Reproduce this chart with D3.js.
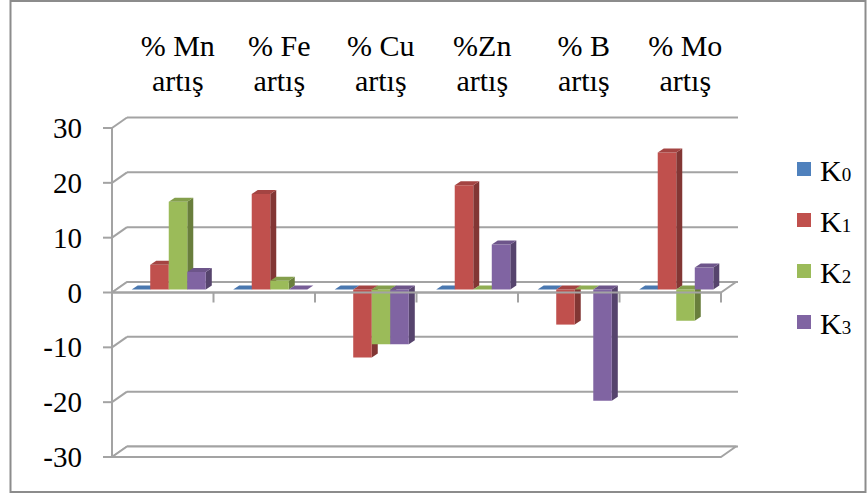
<!DOCTYPE html>
<html>
<head>
<meta charset="utf-8">
<script src="https://cdn.jsdelivr.net/npm/d3@7/dist/d3.min.js"></script>
<style>
  html, body { margin: 0; padding: 0; background: #fff; }
  svg { display: block; }
  text { font-family: "Liberation Serif", "Times New Roman", serif; fill: #000; }
</style>
</head>
<body>
<svg id="chart" width="868" height="495"></svg>
<script>
// ---- data ----
const categories = ["% Mn\nartış", "% Fe\nartış", "% Cu\nartış", "%Zn\nartış", "% B\nartış", "% Mo\nartış"];
const seriesNames = ["K0", "K1", "K2", "K3"];
const K0 = [0, 0, 0, 0, 0, 0];
const K1 = [4.5, 17.4, -12.4, 19, -6.4, 25];
const K2 = [16, 1.6, -10, 0, 0, -5.7];
const K3 = [3.2, 0, -10, 8.2, -20.3, 4];
const yTicks = [30, 20, 10, 0, -10, -20, -30];
const colors = ["#4F81BD", "#C0504D", "#9BBB59", "#8064A2"];

const seriesValues = [K0, K1, K2, K3];

// ---- layout ----
const svg = d3.select("#chart");
const W = 868, H = 495;
const back = { dx: 15, dy: -10.5 };   // depth offset of back wall
const barOff = { dx: 6, dy: -3 };     // front face of bars
const barDepth = { dx: 6, dy: -4 };   // bar depth
const gridColor = "#a3a3a3";

const y = d3.scaleLinear().domain([-30, 30]).range([457, 128]);
const x0 = d3.scaleBand().domain(d3.range(categories.length)).range([112, 721]).padding(0);
const x1 = d3.scaleBand().domain(d3.range(seriesNames.length)).range([0, x0.bandwidth()]).paddingInner(0).paddingOuter(0.74);

// border
svg.append("rect").attr("x", 10.5).attr("y", 1).attr("width", 855).attr("height", 491)
  .attr("fill", "none").attr("stroke", "#8c8c8c").attr("stroke-width", 2);

const g = svg.append("g");
const xL = x0.range()[0], xR = x0.range()[1];

// back wall gridlines + left side diagonals
yTicks.forEach(t => {
  g.append("line").attr("x1", xL + back.dx).attr("x2", xR + back.dx + 2)
    .attr("y1", y(t) + back.dy).attr("y2", y(t) + back.dy)
    .attr("stroke", gridColor).attr("stroke-width", 2);
  g.append("line").attr("x1", xL).attr("x2", xL + back.dx)
    .attr("y1", y(t)).attr("y2", y(t) + back.dy)
    .attr("stroke", gridColor).attr("stroke-width", 2);
});

// floor at 0 (fill) and at -30
function floorPoly(v) {
  return [[xL, y(v)], [xR, y(v)], [xR + back.dx, y(v) + back.dy], [xL + back.dx, y(v) + back.dy]];
}
[0, -30].forEach(v => {
  g.append("polygon").attr("points", floorPoly(v).map(p => p.join(",")).join(" "))
    .attr("fill", "#fff").attr("stroke", gridColor).attr("stroke-width", 2).attr("stroke-linejoin", "round");
});

// bars
const barsG = g.append("g");
function poly(pts, fill) {
  barsG.append("polygon").attr("points", pts.map(p => p.join(",")).join(" ")).attr("fill", fill);
}
categories.forEach((c, ci) => {
  seriesNames.forEach((s, si) => {
    const v = seriesValues[si][ci];
    const base = d3.color(colors[si]);
    const xa = x0(ci) + x1(si) + barOff.dx;
    const xb = xa + x1.bandwidth();
    const y0 = y(0) + barOff.dy;
    const yv = y(v) + barOff.dy;
    const top = Math.min(y0, yv), bot = Math.max(y0, yv);
    // side face
    if (v !== 0) {
      poly([[xb, top], [xb + barDepth.dx, top + barDepth.dy], [xb + barDepth.dx, bot + barDepth.dy], [xb, bot]],
        base.darker(1.1).formatHex());
    }
    // front face
    if (v !== 0) {
      poly([[xa, top], [xb, top], [xb, bot], [xa, bot]], base.formatHex());
    }
    // top face
    poly([[xa, top], [xb, top], [xb + barDepth.dx, top + barDepth.dy], [xa + barDepth.dx, top + barDepth.dy]],
      v === 0 ? base.darker(0.2).formatHex() : base.darker(0.45).formatHex());
  });
});

// front axis lines (drawn on top)
g.append("line").attr("x1", xL).attr("x2", xL).attr("y1", y(30)).attr("y2", y(-30))
  .attr("stroke", gridColor).attr("stroke-width", 2);
yTicks.forEach(t => {
  g.append("line").attr("x1", xL - 9).attr("x2", xL).attr("y1", y(t)).attr("y2", y(t))
    .attr("stroke", gridColor).attr("stroke-width", 2);
});
g.append("line").attr("x1", xL).attr("x2", xR).attr("y1", y(0)).attr("y2", y(0))
  .attr("stroke", gridColor).attr("stroke-width", 2);
categories.forEach((c, ci) => {
  const xt = x0(ci) + x0.bandwidth();
  g.append("line").attr("x1", xt).attr("x2", xt).attr("y1", y(0)).attr("y2", y(0) + 10)
    .attr("stroke", gridColor).attr("stroke-width", 2);
});

// y tick labels
yTicks.forEach(t => {
  svg.append("text").attr("x", 82).attr("y", y(t) + 10)
    .attr("text-anchor", "end").attr("font-size", 29).text(t);
});

// category labels (top)
categories.forEach((c, ci) => {
  const cx = x0(ci) + x0.bandwidth() / 2 + back.dx;
  c.split("\n").forEach((line, li) => {
    svg.append("text").attr("x", cx).attr("y", 56 + li * 35)
      .attr("text-anchor", "middle").attr("font-size", 30).text(line);
  });
});

// legend
const legendY = [169, 220, 271, 322];
seriesNames.forEach((s, si) => {
  const ly = legendY[si];
  svg.append("rect").attr("x", 797).attr("y", ly - 7).attr("width", 14).attr("height", 14)
    .attr("fill", colors[si]);
  const t = svg.append("text").attr("x", 820).attr("y", ly + 12).attr("font-size", 30);
  t.append("tspan").text(s.charAt(0));
  t.append("tspan").attr("font-size", 19).text(s.slice(1));
});
</script>
</body>
</html>
